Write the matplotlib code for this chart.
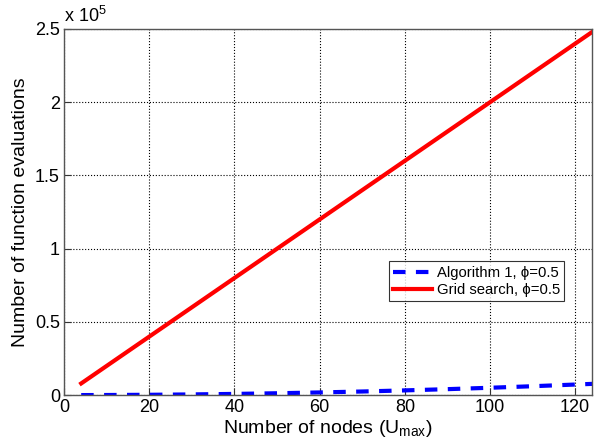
import matplotlib
matplotlib.use("Agg")
import matplotlib.pyplot as plt
from matplotlib.ticker import FuncFormatter

plt.rcParams["font.family"] = ["Liberation Sans", "DejaVu Sans"]
plt.rcParams["mathtext.fontset"] = "custom"
plt.rcParams["mathtext.rm"] = "Liberation Sans"

# -------------------------------
# Data
# -------------------------------
nodes = [4, 10, 20, 30, 40, 50, 60, 70, 80, 90, 100, 110, 120, 124]
algorithm1 = [50, 100, 250, 500, 850, 1300, 1850, 2500, 3250, 4100, 5050, 6100, 7250, 7700]
grid_search = [8000, 20000, 40000, 60000, 80000, 100000, 120000, 140000,
               160000, 180000, 200000, 220000, 240000, 248000]

x_ticks = [0, 20, 40, 60, 80, 100, 120]
y_ticks = [0, 0.5e5, 1e5, 1.5e5, 2e5, 2.5e5]


def main():
    fig = plt.figure(figsize=(5.94, 4.46), dpi=100)
    ax = fig.add_axes([0.108, 0.114, 0.889, 0.821])

    ax.plot(nodes, algorithm1, color="blue", linestyle="--", linewidth=3,
            dashes=(3, 2.5), label="Algorithm 1, \u03d5=0.5")
    ax.plot(nodes, grid_search, color="red", linestyle="-", linewidth=3,
            label="Grid search, \u03d5=0.5")

    ax.set_xlim(0, 124)
    ax.set_ylim(0, 2.5e5)
    ax.set_xticks(x_ticks)
    ax.set_yticks(y_ticks)
    ax.yaxis.set_major_formatter(FuncFormatter(lambda v, p: f"{v / 1e5:g}"))

    ax.grid(True, color="black", linestyle=":", linewidth=0.8)
    ax.tick_params(direction="in", labelsize=13, length=5, colors="#333333",
                   labelcolor="black", top=False, right=False, pad=3)
    for s in ax.spines.values():
        s.set_color("#555555")
        s.set_linewidth(1.0)

    ax.set_xlabel(r"Number of nodes (U$_{\mathrm{max}}$)", fontsize=14, labelpad=1)
    ax.set_ylabel("Number of function evaluations", fontsize=14, labelpad=4)
    ax.text(0.0, 1.008, r"x 10$^5$", transform=ax.transAxes, fontsize=13,
            ha="left", va="bottom")

    leg = ax.legend(loc="center right", bbox_to_anchor=(0.947, 0.311),
                    fontsize=10.7, frameon=True, fancybox=False,
                    handlelength=2.6, borderpad=0.3, labelspacing=0.2,
                    handletextpad=0.3, borderaxespad=0)
    leg.get_frame().set_edgecolor("black")
    leg.get_frame().set_linewidth(0.8)

    plt.savefig("out.png", dpi=100)
    plt.close()


if __name__ == "__main__":
    main()
